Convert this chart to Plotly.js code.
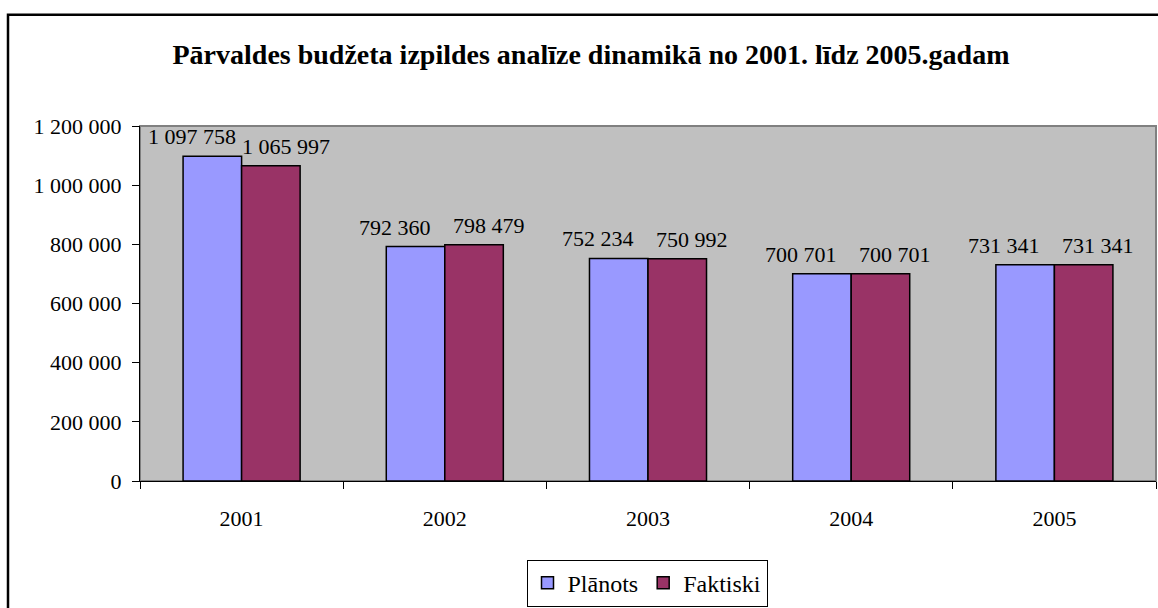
<!DOCTYPE html>
<html>
<head>
<meta charset="utf-8">
<script src="https://cdn.plot.ly/plotly-3.0.1.min.js"></script>
<style>
  body { margin: 0; background: #fff; }
  #plot { width: 1158px; height: 608px; }
</style>
</head>
<body>
<div id="plot"></div>
<script>
const years = ["2001", "2002", "2003", "2004", "2005"];
const planots = [1097758, 792360, 752234, 700701, 731341];
const faktiski = [1065997, 798479, 750992, 700701, 731341];
const yTicks = [0, 200000, 400000, 600000, 800000, 1000000, 1200000];

const serif = "Liberation Serif";

// number with a space as thousands separator
function fmt(n) {
  return n.toString().replace(/\B(?=(\d{3})+(?!\d))/g, " ");
}

const traces = [
  {
    type: "bar",
    name: "Plānots",
    x: years,
    y: planots,
    marker: { color: "#9999FF", line: { color: "#000", width: 1.5 } },
    hoverinfo: "skip"
  },
  {
    type: "bar",
    name: "Faktiski",
    x: years,
    y: faktiski,
    marker: { color: "#993366", line: { color: "#000", width: 1.5 } },
    hoverinfo: "skip"
  }
];

// value labels, pushed apart a bit like the original (x = category index)
const labels = [];
years.forEach((yr, i) => {
  labels.push({
    x: i, y: planots[i], xref: "x", yref: "y",
    text: fmt(planots[i]), showarrow: false,
    xshift: -50, yshift: 5, yanchor: "bottom",
    font: { family: serif, size: 22, color: "#000" }
  });
  labels.push({
    x: i, y: faktiski[i], xref: "x", yref: "y",
    text: fmt(faktiski[i]), showarrow: false,
    xshift: 44, yshift: 5, yanchor: "bottom",
    font: { family: serif, size: 22, color: "#000" }
  });
});

const L = 140, R = 1156, T = 126, B = 483;
const px = v => (v - L) / (R - L);
const py = v => (B - v) / (B - T);

const layout = {
  width: 1158,
  height: 608,
  margin: { l: L, r: 1158 - R, t: T, b: 608 - B, pad: 0 },
  paper_bgcolor: "#fff",
  plot_bgcolor: "#C0C0C0",
  separators: ", ",
  font: { family: serif, size: 22, color: "#000" },
  title: {
    text: "<b>Pārvaldes budžeta izpildes analīze dinamikā no 2001. līdz 2005.gadam</b>",
    font: { family: serif, size: 28, color: "#000" },
    x: 591 / 1158, xref: "container", xanchor: "center",
    y: 1 - 54 / 608, yref: "container", yanchor: "middle"
  },
  barmode: "group",
  bargap: 0.424,
  bargroupgap: 0,
  xaxis: {
    type: "category",
    range: [-0.5, 4.5],
    autorange: false,
    showline: true, linecolor: "#000", linewidth: 1,
    ticks: "outside", ticklen: 7, tickcolor: "#000",
    tickson: "boundaries",
    ticklabelstandoff: 18,
    showgrid: false, zeroline: false,
    tickfont: { family: serif, size: 22 },
    fixedrange: true
  },
  yaxis: {
    range: [0, 1200000],
    autorange: false,
    tickvals: yTicks,
    tickformat: ",d",
    showline: true, linecolor: "#000", linewidth: 1,
    ticks: "outside", ticklen: 7, tickcolor: "#000",
    ticklabelstandoff: 6,
    showgrid: false, zeroline: false,
    tickfont: { family: serif, size: 22 },
    fixedrange: true
  },
  showlegend: true,
  legend: {
    orientation: "h",
    x: px(647), xanchor: "center",
    y: py(562), yanchor: "top",
    bgcolor: "#fff",
    bordercolor: "#000",
    borderwidth: 1,
    font: { family: serif, size: 24 },
    itemwidth: 30,
    tracegroupgap: 0
  },
  shapes: [
    // gray plot-area frame (top/right)
    {
      type: "rect", xref: "paper", yref: "paper",
      x0: 0, x1: 1, y0: 0, y1: 1,
      line: { color: "#808080", width: 2 }, layer: "below"
    },
    // outer chart border
    {
      type: "rect", xref: "paper", yref: "paper",
      x0: px(8), x1: px(1175), y0: py(625), y1: py(14),
      line: { color: "#000", width: 2.5 }
    }
  ],
  annotations: labels
};

Plotly.newPlot("plot", traces, layout, { staticPlot: true });
</script>
</body>
</html>
